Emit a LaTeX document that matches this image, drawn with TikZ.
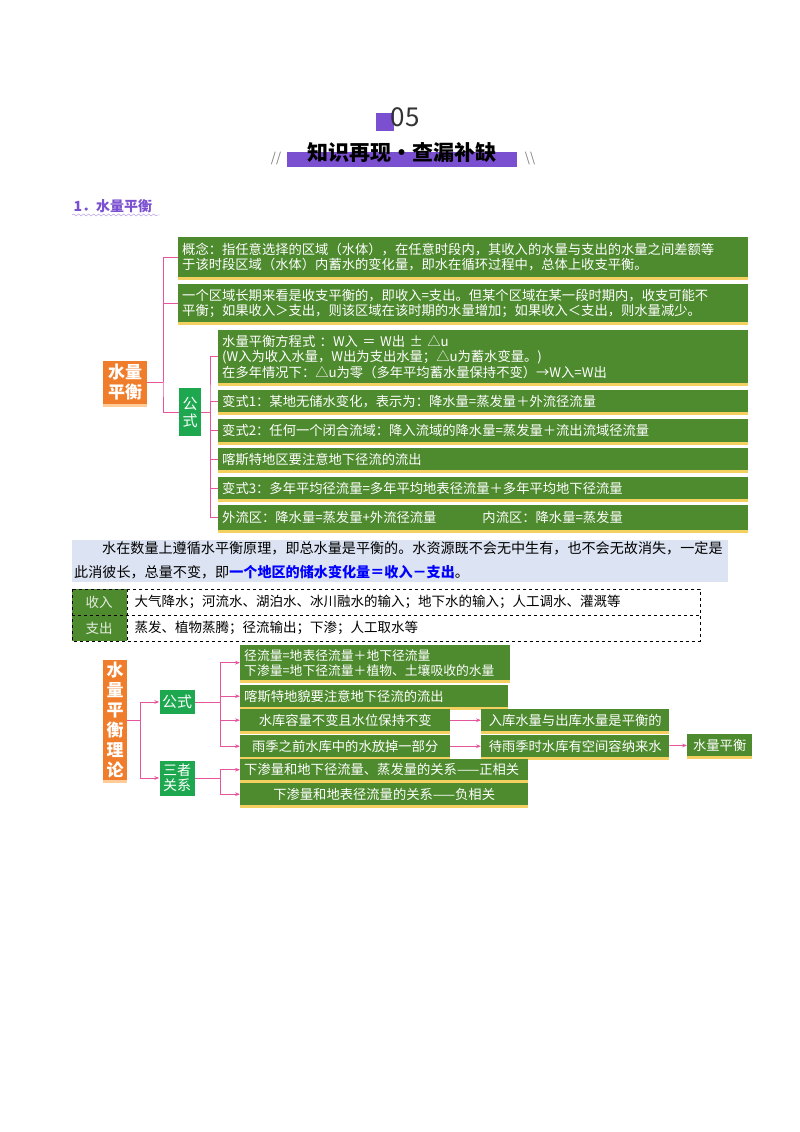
\documentclass[tikz,border=0pt]{standalone}
\usepackage{fontspec}
\setmainfont{Noto Sans CJK SC}
\XeTeXlinebreaklocale "zh"
\XeTeXlinebreakskip=0pt plus 1pt
\usetikzlibrary{decorations.pathmorphing,arrows.meta}
\definecolor{grn}{HTML}{4E8A2E}
\definecolor{gbtn}{HTML}{1DA84F}
\definecolor{pnk}{HTML}{E8559F}
\definecolor{org}{HTML}{F07D2B}
\definecolor{pur}{HTML}{7A4FD0}
\definecolor{shd}{HTML}{F3D060}
\definecolor{para}{HTML}{DCE3F2}
\tikzset{
  gb/.style={fill=grn, text=white, anchor=north west, inner xsep=4pt, inner ysep=1pt, align=left,
    font=\fontsize{13.3}{15.5}\selectfont,
    preaction={fill=shd, transform canvas={yshift=-2.5pt}}},
  gc/.style={gb, align=center},
  lk/.style={pnk, line width=0.8pt},
  ar/.style={pnk, line width=0.8pt, -{Stealth[length=5pt]}},
  ob/.style={fill=org, text=white, font=\fontsize{17}{20}\selectfont\bfseries, align=center, inner sep=2pt,
    preaction={fill=orange!40, transform canvas={yshift=-3pt}}},
  kb/.style={fill=gbtn, text=white, font=\fontsize{15}{17}\selectfont, align=center, inner sep=2pt}
}
\begin{document}
\begin{tikzpicture}[x=1pt,y=-1pt]
\useasboundingbox (0,0) rectangle (800,1132);
% header
\fill[pur] (376,113) rectangle (394,131);
\node[font=\fontsize{26}{28}\selectfont, text=black!80] (num) at (405,117) {05};
\fill[pur] (287,152) rectangle (517,167);
\node[font=\fontsize{21}{22}\selectfont\bfseries] (ttl) at (402,152) {知识再现·查漏补缺};
\node[font=\fontsize{13}{14}\selectfont, text=gray] (s1) at (276,159) {//};
\node[font=\fontsize{13}{14}\selectfont, text=gray] (s2) at (530,159) {\textbackslash\textbackslash};
\node[anchor=west, text=pur, font=\fontsize{14}{15}\selectfont\bfseries] (sec) at (70,206) {1．水量平衡};
\draw[pur!60, decorate, decoration={snake, amplitude=1pt, segment length=5pt}] (72,215) -- (160,215);
% diagram 1
\node[gb, minimum width=570pt, minimum height=40pt, text width=562pt] (c1) at (178,237) {概念：指任意选择的区域（水体），在任意时段内，其收入的水量与支出的水量之间差额等\\于该时段区域（水体）内蓄水的变化量，即水在循环过程中，总体上收支平衡。};
\node[gb, minimum width=570pt, minimum height=38pt, text width=562pt] (c2) at (178,284) {一个区域长期来看是收支平衡的，即收入=支出。但某个区域在某一段时期内，收支可能不\\平衡；如果收入＞支出，则该区域在该时期的水量增加；如果收入＜支出，则水量减少。};
\node[ob, minimum width=44pt, minimum height=43pt] (wb) at (125,382) {水量\\平衡};
\node[kb, minimum width=22pt, minimum height=48pt] (gs) at (190,412) {公\\式};
\node[gb, minimum width=530pt, minimum height=53pt, text width=522pt] (f0) at (218,330) {水量平衡方程式 ：W入 ＝ W出 ± △u\\(W入为收入水量，W出为支出水量；△u为蓄水变量。)\\在多年情况下：△u为零（多年平均蓄水量保持不变）→W入=W出};
\node[gb, minimum width=530pt, minimum height=22pt, text width=522pt] (f1) at (218,390) {变式1：某地无储水变化，表示为：降水量=蒸发量＋外流径流量};
\node[gb, minimum width=530pt, minimum height=23pt, text width=522pt] (f2) at (218,419) {变式2：任何一个闭合流域：降入流域的降水量=蒸发量＋流出流域径流量};
\node[gb, minimum width=530pt, minimum height=22pt, text width=522pt] (f3) at (218,448) {喀斯特地区要注意地下径流的流出};
\node[gb, minimum width=530pt, minimum height=22pt, text width=522pt] (f4) at (218,477) {变式3：多年平均径流量=多年平均地表径流量＋多年平均地下径流量};
\node[gb, minimum width=530pt, minimum height=25pt, text width=522pt] (f5) at (218,505) {外流区：降水量=蒸发量+外流径流量\hspace{46pt}内流区：降水量=蒸发量};
\coordinate (v1) at (163,382);
\draw[lk] (wb.east) -- (v1);
\draw[lk] (c1.west) -| (v1) |- (gs.west);
\draw[lk] (c2.west) -| (v1);
\coordinate (v2) at (210,412);
\draw[lk] (gs.east) -- (v2);
\draw[lk] (f0.west) -| (v2) |- (f5.west);
\foreach \n in {f1,f2,f3,f4} \draw[lk] (\n.west) -| (v2);
% paragraph
\fill[para] (72,540) rectangle (728,582);
\node[anchor=north west, text width=680pt, inner sep=0pt, font=\fontsize{14.1}{24}\selectfont] (pg) at (74,541) {\hspace*{28pt}水在数量上遵循水平衡原理，即总水量是平衡的。水资源既不会无中生有，也不会无故消失，一定是\\此消彼长，总量不变，即{\color{blue}\bfseries 一个地区的储水变化量＝收入－支出}。};
% table
\fill[grn] (72,589) rectangle (127,641);
\draw[dashed, line width=1pt] (72,589) rectangle (700,641);
\draw[dashed, line width=1pt] (72,615) -- (700,615);
\draw[dashed, line width=1pt] (127,589) -- (127,641);
\node[text=white!85!grn, font=\fontsize{13.5}{15}\selectfont] (t1) at (99,602) {收入};
\node[text=white!85!grn, font=\fontsize{13.5}{15}\selectfont] (t2) at (99,628) {支出};
\node[anchor=west, font=\fontsize{13.5}{15}\selectfont] (t3) at (131,602) {大气降水；河流水、湖泊水、冰川融水的输入；地下水的输入；人工调水、灌溉等};
\node[anchor=west, font=\fontsize{13.5}{15}\selectfont] (t4) at (131,628) {蒸发、植物蒸腾；径流输出；下渗；人工取水等};
% diagram 2
\node[ob, minimum width=24pt, minimum height=120pt] (wb2) at (115,720) {水\\量\\平\\衡\\理\\论};
\node[kb, minimum width=35pt, minimum height=24pt] (g2) at (177,702) {公式};
\node[kb, minimum width=35pt, minimum height=35pt, font=\fontsize{14}{15}\selectfont] (g3) at (177,778) {三者\\关系};
\node[gb, minimum width=268pt, minimum height=35pt, text width=262pt, font=\fontsize{12.8}{15}\selectfont] (a1) at (240,645) {径流量=地表径流量＋地下径流量\\下渗量=地下径流量＋植物、土壤吸收的水量};
\node[gb, minimum width=268pt, minimum height=22pt, text width=260pt] (a2) at (240,685) {喀斯特地貌要注意地下径流的流出};
\node[gc, minimum width=210pt, minimum height=22pt] (a3) at (240,709) {水库容量不变且水位保持不变};
\node[gc, minimum width=210pt, minimum height=22pt] (a4) at (240,735) {雨季之前水库中的水放掉一部分};
\node[gc, minimum width=188pt, minimum height=22pt] (b3) at (481,709) {入库水量与出库水量是平衡的};
\node[gc, minimum width=188pt, minimum height=22pt] (b4) at (481,735) {待雨季时水库有空间容纳来水};
\node[gc, minimum width=65pt, minimum height=22pt] (e4) at (687,734) {水量平衡};
\node[gb, minimum width=288pt, minimum height=21pt, text width=280pt] (d1) at (240,759) {下渗量和地下径流量、蒸发量的关系——正相关};
\node[gc, minimum width=288pt, minimum height=22pt] (d2) at (240,783) {下渗量和地表径流量的关系——负相关};
\coordinate (w1) at (140,720);
\draw[lk] (wb2.east) -- (w1);
\draw[ar] (w1) |- (g2.west);
\draw[ar] (w1) |- (g3.west);
\coordinate (w2) at (220,702);
\draw[lk] (g2.east) -- (w2);
\foreach \n in {a1,a2,a3,a4} \draw[ar] (w2) |- (\n.west);
\coordinate (w3) at (220,778);
\draw[lk] (g3.east) -- (w3);
\foreach \n in {d1,d2} \draw[ar] (w3) |- (\n.west);
\draw[ar] (a3) -- (b3);
\draw[ar] (a4) -- (b4);
\draw[ar] (b4) -- (e4);
\end{tikzpicture}
\end{document}
